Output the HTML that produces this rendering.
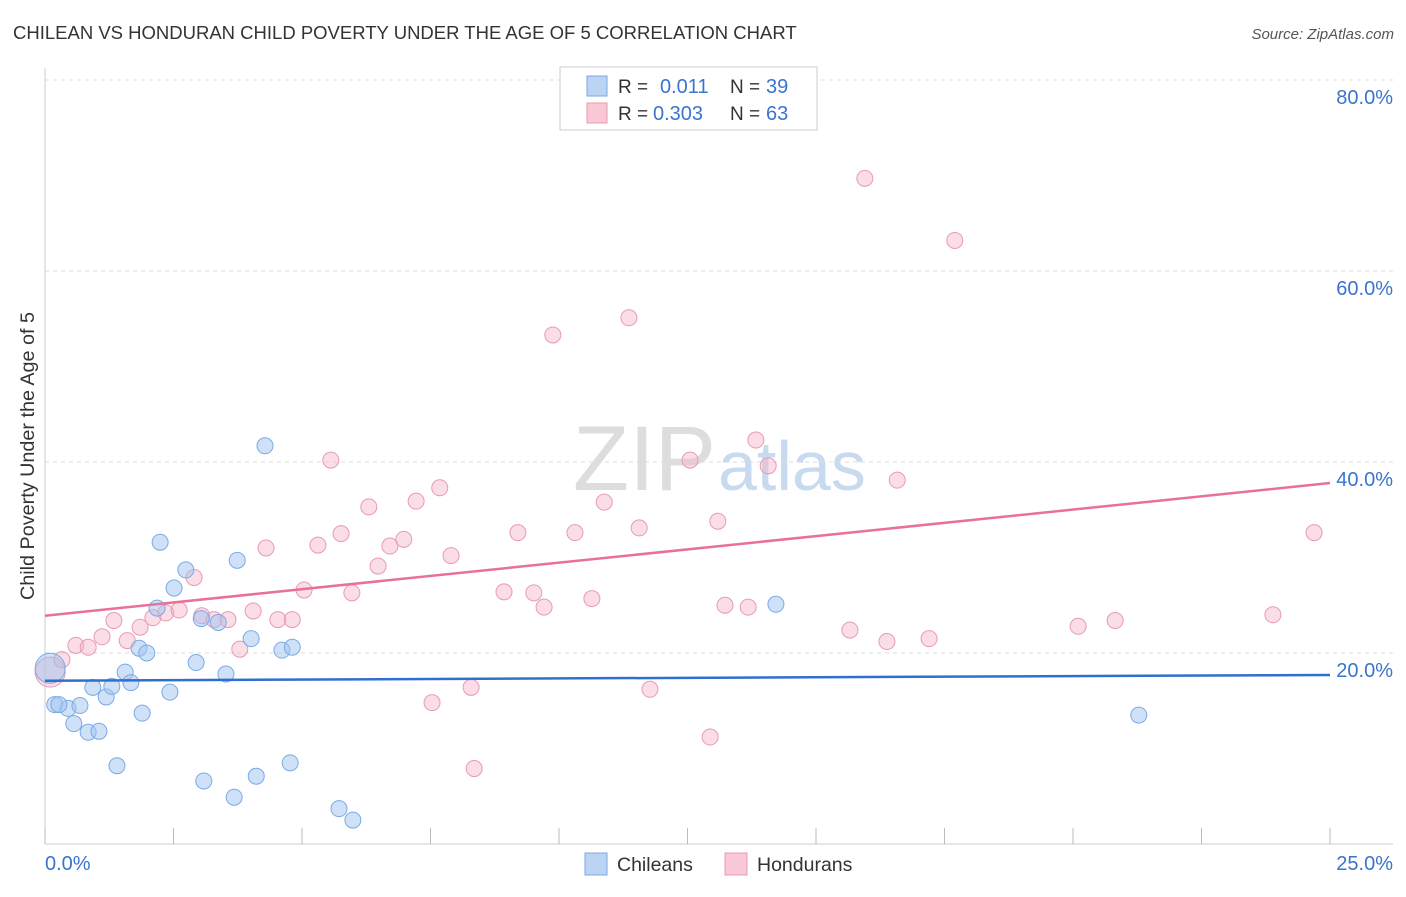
<!DOCTYPE html>
<html><head><meta charset="utf-8"><style>
body{margin:0;background:#fff;font-family:"Liberation Sans",sans-serif}
svg text{font-family:"Liberation Sans",sans-serif}
</style></head><body>
<svg id="c" width="1406" height="892">
<text x="13" y="39" font-size="18.5" fill="#333">CHILEAN VS HONDURAN CHILD POVERTY UNDER THE AGE OF 5 CORRELATION CHART</text>
<text x="1394" y="39" font-size="15" fill="#555" font-style="italic" text-anchor="end">Source: ZipAtlas.com</text>
<text x="716" y="490" font-size="92" fill="#ddd" text-anchor="end" font-family="Liberation Serif, serif">ZIP</text>
<text x="718" y="490" font-size="70" fill="#c8daf0">atlas</text>
<g id="grid"></g><g id="axes"></g><g id="pts"></g><g id="lines"></g>
<text transform="translate(34,456) rotate(-90)" font-size="19.8" fill="#333" text-anchor="middle">Child Poverty Under the Age of 5</text>
<text x="45" y="870" font-size="20" fill="#3a74d0">0.0%</text>
<text x="1393" y="870" font-size="20" fill="#3a74d0" text-anchor="end">25.0%</text>
<g>
<rect x="560" y="67" width="257" height="63" fill="#fff" stroke="#ccc"/>
<rect x="587" y="76" width="20" height="20" fill="#bcd4f4" stroke="#7aaae6"/>
<rect x="587" y="103" width="20" height="20" fill="#f8c8d6" stroke="#e89ab4"/>
<text x="618" y="93" font-size="19" fill="#333">R = </text><text x="660" y="93" font-size="20" fill="#3a74d0">0.011</text>
<text x="730" y="93" font-size="19" fill="#333">N = </text><text x="766" y="93" font-size="20" fill="#3a74d0">39</text>
<text x="618" y="120" font-size="19" fill="#333">R = </text><text x="653" y="120" font-size="20" fill="#3a74d0">0.303</text>
<text x="730" y="120" font-size="19" fill="#333">N = </text><text x="766" y="120" font-size="20" fill="#3a74d0">63</text>
</g>
<g>
<rect x="585" y="853" width="22" height="22" fill="#bcd4f4" stroke="#7aaae6"/>
<text x="617" y="871" font-size="19.5" fill="#333">Chileans</text>
<rect x="725" y="853" width="22" height="22" fill="#f8c8d6" stroke="#e89ab4"/>
<text x="757" y="871" font-size="19.5" fill="#333">Hondurans</text>
</g>
</svg>
<script>
const yTicks=[20,40,60,80];
const xTicks=[0,2.5,5,7.5,10,12.5,15,17.5,20,22.5,25];
const chileX=[0.1,0.19,0.45,0.68,0.56,0.84,1.05,0.93,1.19,1.30,1.56,1.67,1.40,1.89,1.83,1.98,2.18,2.24,2.43,2.51,2.74,2.94,3.04,3.09,3.37,3.52,3.68,3.74,4.01,4.11,4.28,4.61,4.77,4.81,5.72,5.99,14.22,21.28,0.27];
const chileY=[18.4,14.6,14.2,14.5,12.6,11.7,11.8,16.4,15.4,16.5,18.0,16.9,8.2,13.7,20.5,20.0,24.7,31.6,15.9,26.8,28.7,19.0,23.6,6.6,23.2,17.8,4.9,29.7,21.5,7.1,41.7,20.3,8.5,20.6,3.7,2.5,25.1,13.5,14.6];
const hondX=[0.1,0.33,0.60,0.84,1.11,1.34,1.60,1.85,2.10,2.35,2.61,2.90,3.05,3.29,3.56,3.79,4.05,4.30,4.53,4.81,5.04,5.31,5.56,5.76,5.97,6.30,6.48,6.71,6.98,7.22,7.53,7.68,7.90,8.29,8.35,8.93,9.20,9.51,9.71,9.88,10.31,10.64,10.88,11.36,11.56,11.77,12.55,12.94,13.09,13.23,13.68,13.83,14.07,15.66,15.95,16.38,16.58,17.20,17.70,20.10,20.82,23.89,24.69];
const hondY=[18.0,19.3,20.8,20.6,21.7,23.4,21.3,22.7,23.7,24.2,24.5,27.9,23.9,23.5,23.5,20.4,24.4,31.0,23.5,23.5,26.6,31.3,40.2,32.5,26.3,35.3,29.1,31.2,31.9,35.9,14.8,37.3,30.2,16.4,7.9,26.4,32.6,26.3,24.8,53.3,32.6,25.7,35.8,55.1,33.1,16.2,40.2,11.2,33.8,25.0,24.8,42.3,39.6,22.4,69.7,21.2,38.1,21.5,63.2,22.8,23.4,24.0,32.6];
const chileTrend=[17.1,17.7];
const hondTrend=[23.9,37.8];
const X=v=>45+v*51.4, Y=v=>844-v*9.55;
const NS="http://www.w3.org/2000/svg";
function mk(t,a,p){const e=document.createElementNS(NS,t);for(const k in a)e.setAttribute(k,a[k]);document.getElementById(p).appendChild(e);return e;}
yTicks.forEach(t=>{
 const l=mk('line',{x1:45,x2:1393,y1:Y(t),y2:Y(t),stroke:'#ddd','stroke-dasharray':'4,4'},'grid');
 
 
 const tx=mk('text',{x:1393,y:Y(t)+24,'font-size':20,fill:'#3a74d0','text-anchor':'end'},'grid');
 tx.textContent=t.toFixed(1)+'%';
 
 
});
mk('line',{x1:45,x2:45,y1:68,y2:844,stroke:'#ccc'},'axes');
mk('line',{x1:45,x2:1393,y1:844,y2:844,stroke:'#ccc'},'axes');
xTicks.forEach(t=>{
 const l=mk('line',{x1:X(t),x2:X(t),y1:828,y2:844,stroke:'#bbb'},'axes');
 
 
});
function pts(xs,ys,fill,stroke,name){
 xs.forEach((x,i)=>{
  const c=mk('circle',{cx:X(x),cy:Y(ys[i]),r:i==0?15:8,fill:fill,stroke:stroke,'stroke-width':1},'pts');
  
  
 });
}
pts(hondX,hondY,'rgba(245,180,200,0.45)','#e89ab4','honduran-point');
pts(chileX,chileY,'rgba(160,196,240,0.5)','#7aaae6','chilean-point');
const l1=mk('line',{x1:X(0),x2:X(25),y1:Y(chileTrend[0]),y2:Y(chileTrend[1]),stroke:'#2f6fd0','stroke-width':2.5},'lines');


const l2=mk('line',{x1:X(0),x2:X(25),y1:Y(hondTrend[0]),y2:Y(hondTrend[1]),stroke:'#e8709a','stroke-width':2.5},'lines');


</script>
</body></html>
